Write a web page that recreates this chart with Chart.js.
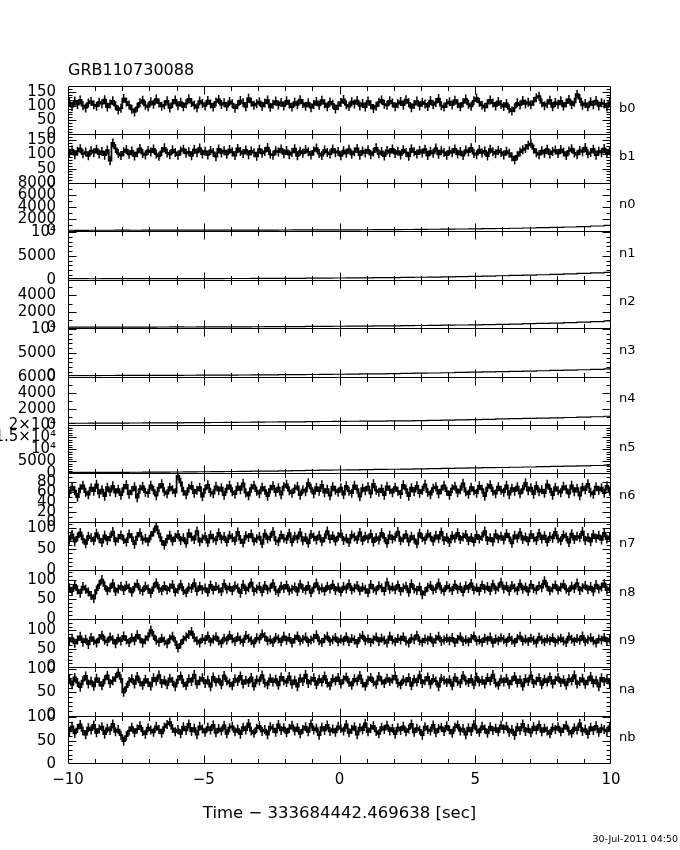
<!DOCTYPE html>
<html><head><meta charset="utf-8">
<script src="https://cdn.jsdelivr.net/npm/chart.js@4.4.1/dist/chart.umd.min.js"></script>
<style>html,body{margin:0;padding:0;background:#fff;}#wrap{width:680px;height:850px;}</style>
</head><body><div id="wrap"><canvas id="c" width="680" height="850"></canvas></div>
<script>
// ---- data ----
const panelNames = ['b0','b1','n0','n1','n2','n3','n4','n5','n6','n7','n8','n9','na','nb'];
const yMax = [170,170,8100,10200,5900,10200,6100,20200,98,115,125,132,104,104];
const yTickValues = [[0,50,100,150],[0,50,100,150],[0,2000,4000,6000,8000],[0,5000,10000],[0,2000,4000],[0,5000,10000],[0,2000,4000,6000],[0,5000,10000,15000,20000],[0,20,40,60,80],[0,50,100],[0,50,100],[0,50,100],[0,50,100],[0,50,100]];
const yTickText = [['0','50','100','150'],['0','50','100','150'],['0','2000','4000','6000','8000'],['0','5000','10⁴'],['0','2000','4000'],['0','5000','10⁴'],['0','2000','4000','6000'],['0','5000','10⁴','1.5×10⁴','2×10⁴'],['0','20','40','60','80'],['0','50','100'],['0','50','100'],['0','50','100'],['0','50','100'],['0','50','100']];
const yMinor = [10,10,1000,1000,1000,1000,1000,1000,10,10,10,10,10,10];
const yMajor = [50,50,2000,5000,2000,5000,2000,5000,20,50,50,50,50,50];
const xTickLabels = [-10,-5,0,5,10];
const titleText = 'GRB110730088';
const xTitle = 'Time − 333684442.469638 [sec]';
const dateText = '30-Jul-2011 04:50';

// noisy light curves: 0.1 s bins from -10 s
const binStart = -10, binWidth = 0.1;
const b0 = [112,98,117,105,121,101,93,110,116,104,99,113,108,122,96,107,118,101,86,92,
126,114,103,88,79,95,111,120,102,97,115,106,124,110,99,104,118,93,109,121,
101,113,97,108,125,112,103,94,117,109,100,119,107,96,114,123,105,111,98,116,
108,92,104,119,111,97,127,113,102,108,115,99,110,121,95,106,117,103,112,100,
118,107,96,113,104,122,109,99,111,94,105,116,102,120,108,97,114,106,89,101,
112,123,104,98,115,107,119,100,109,96,117,104,91,99,113,121,106,102,118,110,
97,108,116,103,122,111,94,105,117,100,113,107,98,119,104,112,126,101,96,109,
115,103,120,108,97,111,124,106,99,118,127,113,102,95,108,121,110,100,116,105,
98,109,90,82,94,111,103,119,107,113,104,116,129,134,111,101,108,120,97,112,
106,118,99,110,123,104,113,141,126,102,109,97,115,104,119,100,111,107,96,113];
const b1 = [104,116,99,111,120,102,108,95,113,106,118,101,110,97,115,78,140,121,103,96,
109,117,100,112,94,106,121,103,98,114,108,119,101,93,110,123,105,99,116,107,
97,112,118,104,109,95,117,106,122,101,111,98,114,107,92,119,105,113,100,117,
108,96,121,110,103,115,99,112,106,93,118,104,110,124,101,97,113,108,119,102,
114,99,107,120,95,111,104,117,109,98,112,122,103,96,115,107,101,119,106,110,
95,113,104,118,100,109,121,97,112,105,116,99,108,123,102,110,94,114,106,119,
103,111,98,116,107,93,120,109,101,114,105,118,96,111,104,122,100,113,107,97,
112,106,119,101,110,96,115,108,123,103,99,117,105,112,94,118,109,102,114,107,
98,111,104,92,80,95,108,116,121,132,138,119,106,99,113,104,118,101,110,115,
103,117,108,96,112,120,105,99,114,109,124,102,107,118,97,111,106,121,104,113];
const n6 = [58,71,63,50,67,74,60,55,69,62,76,57,65,52,70,61,73,59,66,54,
68,75,56,63,71,49,66,72,60,58,74,64,53,69,77,61,57,70,65,59,
93,80,62,55,68,73,58,64,70,51,66,75,60,57,72,63,69,54,67,74,
61,56,71,65,78,59,53,68,74,62,57,70,64,52,66,73,60,69,55,71,
76,63,58,67,72,54,65,61,79,68,57,70,62,75,59,66,53,71,64,60,
69,55,73,62,58,74,66,51,68,63,71,57,77,64,60,67,54,72,65,59,
70,62,56,75,66,52,69,61,73,58,64,76,60,55,68,71,57,65,74,62,
54,67,72,59,65,78,61,56,70,63,58,73,66,52,69,75,62,57,71,64,
60,74,55,68,62,71,57,66,79,63,69,56,73,61,65,58,76,67,54,70,
63,59,72,66,57,74,61,68,53,70,65,77,60,56,71,64,69,58,73,62];
const n7 = [72,85,68,79,90,74,63,81,77,70,88,75,66,83,71,79,92,69,76,84,
73,67,86,78,62,80,89,72,76,68,82,91,104,87,70,60,74,83,69,78,
85,71,77,64,88,79,73,93,68,75,81,66,84,76,71,89,74,80,67,83,
77,70,91,73,65,82,78,86,69,75,80,63,87,74,79,92,71,68,84,76,
73,88,67,81,75,90,70,78,64,85,79,72,83,68,77,93,74,82,69,80,
87,71,76,66,84,79,73,90,70,81,75,86,67,78,72,89,77,64,83,74,
79,92,70,76,85,68,81,74,63,88,77,72,86,80,69,83,75,91,71,78,
66,82,76,89,73,79,85,70,78,67,84,74,80,93,71,77,68,86,75,81,
72,87,78,64,83,76,90,73,79,69,85,77,71,88,74,82,67,80,76,91,
75,70,84,79,66,87,73,81,77,92,71,78,68,85,76,83,72,89,74,80];
const n8 = [80,71,87,74,66,83,76,69,60,52,74,88,101,85,72,79,91,70,77,84,
73,86,79,68,82,90,75,71,84,77,66,81,93,78,72,85,74,80,88,69,
76,89,73,67,81,78,92,71,84,75,79,68,87,74,83,77,70,90,76,82,
72,85,79,66,88,74,80,93,71,77,83,69,86,75,79,91,73,68,84,78,
87,72,76,82,70,89,78,74,85,67,80,92,75,79,71,84,77,88,73,81,
69,83,77,90,74,79,86,72,81,76,67,88,78,73,85,80,71,94,76,82,
75,87,71,79,84,68,90,77,73,82,62,70,81,86,74,78,92,76,71,85,
79,73,88,76,82,69,85,78,91,74,80,71,87,77,83,72,89,75,81,94,
77,84,71,86,79,73,90,76,82,70,88,78,74,85,80,98,83,72,79,87,
74,81,89,76,71,84,78,92,73,80,86,75,83,70,88,77,82,91,74,79];
const n9 = [70,79,65,74,84,68,76,62,81,72,66,78,87,73,69,82,75,64,79,71,
85,74,67,80,72,88,78,66,75,83,101,86,73,68,79,71,64,77,84,70,
52,63,75,82,89,97,80,72,66,78,74,85,69,76,83,71,65,79,73,87,
77,70,82,74,68,86,79,72,65,80,76,90,83,71,75,67,81,77,69,84,
73,80,66,77,85,71,76,82,68,74,79,88,72,67,78,84,70,75,81,69,
76,71,83,69,78,74,65,80,86,72,77,68,75,82,70,79,73,66,84,74,
69,78,74,83,71,66,79,75,87,72,68,77,73,81,67,76,84,70,74,79,
72,80,67,76,83,70,75,69,78,85,71,74,68,79,73,82,66,77,72,80,
75,68,81,73,67,78,84,71,76,70,79,73,66,82,75,69,77,72,80,68,
74,79,71,67,83,76,70,78,73,85,69,75,80,72,66,77,74,81,70,76];
const na = [78,66,82,71,61,75,85,68,74,63,80,72,64,77,86,69,75,82,92,79,
50,61,73,79,68,84,72,65,78,71,63,81,74,87,69,76,66,80,73,62,
77,85,70,64,79,73,88,67,75,81,69,76,62,83,72,78,66,86,74,70,
64,79,73,85,68,76,71,82,63,77,74,87,70,66,80,72,78,65,83,75,
71,84,67,76,62,80,73,88,69,75,81,66,78,72,85,70,64,79,74,82,
68,77,83,71,65,79,74,86,70,63,76,82,72,67,84,75,69,80,73,78,
85,70,66,77,73,81,64,78,72,87,69,75,83,67,79,74,62,80,76,71,
77,64,82,73,69,86,75,71,79,66,83,72,76,68,81,74,88,70,65,78,
72,80,67,75,84,70,77,63,79,73,86,69,74,81,66,78,72,83,68,76,
82,71,77,65,79,74,87,68,73,80,67,75,84,70,76,62,81,73,78,69];
const nb = [70,81,66,76,85,71,63,78,73,84,67,75,80,64,77,72,86,69,74,62,
49,60,71,79,67,75,82,70,64,78,73,68,81,74,66,79,85,90,76,69,
74,65,80,72,86,70,77,63,81,75,68,79,73,84,67,76,71,83,65,78,
81,69,75,64,79,73,87,71,66,77,82,70,74,63,80,76,68,85,72,78,
67,76,83,71,78,65,74,80,69,86,73,77,62,79,72,84,70,75,68,81,
76,71,85,67,74,80,63,78,73,87,69,76,82,70,65,79,74,83,71,77,
64,78,72,81,69,75,86,68,77,73,62,80,74,71,84,67,76,79,70,82,
73,66,79,84,71,76,63,78,70,85,74,68,81,75,66,80,72,77,69,83,
75,81,68,74,62,79,72,86,70,76,67,80,73,84,69,77,71,65,78,74,
80,69,76,83,71,66,78,73,87,70,75,64,79,72,82,68,77,74,70,81];

// slowly rising detectors: samples every 0.5 s from -10 s
const rampStart = -10, rampStep = 0.5;
const n0 = [170,165,175,170,180,175,185,180,190,185,195,200,195,205,210,205,215,220,230,225,240,250,255,270,280,300,320,340,360,385,410,440,470,510,550,600,650,720,790,880,990];
const n1 = [210,215,205,220,215,225,230,225,235,240,245,250,260,255,270,280,290,300,320,340,360,380,400,430,450,480,520,560,600,650,700,760,830,900,970,1050,1130,1220,1320,1420,1540];
const n2 = [120,125,120,130,125,135,130,140,145,140,150,155,160,165,170,180,185,195,205,215,230,240,255,270,285,300,320,340,360,385,410,440,470,500,540,580,620,670,730,800,880];
const n3 = [210,220,215,230,240,235,250,260,270,280,290,305,320,335,350,370,390,410,435,460,490,520,550,585,620,660,705,755,810,865,920,980,1040,1100,1165,1230,1300,1370,1440,1520,1610];
const n4 = [215,220,225,235,240,250,260,270,280,290,300,315,330,345,360,375,390,405,420,440,455,470,485,500,515,530,550,575,605,640,680,720,760,800,835,870,905,945,990,1040,1100];
const n5 = [420,430,440,460,480,500,530,560,600,640,690,740,800,860,930,1000,1080,1160,1250,1340,1420,1500,1580,1660,1740,1820,1900,1990,2080,2180,2280,2380,2480,2580,2690,2800,2920,3040,3170,3310,3460];

const series = [b0,b1,n0,n1,n2,n3,n4,n5,n6,n7,n8,n9,na,nb];
const isRamp = [false,false,true,true,true,true,true,true,false,false,false,false,false,false];

// ---- build chart ----
const datasets = series.map((vals,i)=>{
  const ramp = isRamp[i];
  const pts = vals.map((v,k)=>({x: ramp ? rampStart + rampStep*k : binStart + binWidth*(k+0.5), y: v}));
  return {
    label: panelNames[i], data: pts, yAxisID: 'y'+i,
    stepped: 'middle', borderColor:'#000', borderWidth: ramp ? 1.2 : 1.8,
    pointStyle: 'line', pointRotation: 90, pointRadius: ramp ? 0 : 4.5,
    pointBorderWidth: 1.5, pointBorderColor:'#000', pointBackgroundColor:'#000',
    pointHoverRadius: 0, fill:false
  };
});

const scales = {
  x: {
    type:'linear', position:'bottom', min:-10, max:10,
    grid:{display:false}, border:{display:false},
    ticks:{stepSize:5, color:'#000', padding:-1, maxRotation:0, autoSkip:false,
      font:{family:'DejaVu Sans', size:15},
      callback: v => xTickLabels.includes(v) ? (v<0 ? '−'+Math.abs(v) : String(v)) : ''},
    title:{display:true, text:xTitle, color:'#000', font:{family:'DejaVu Sans', size:16.5}, padding:{top:0,bottom:26}},
    afterFit: s => { s.height = 86; }
  }
};
panelNames.forEach((n,i)=>{
  scales['y'+i] = {
    type:'linear', position:'left', stack:'panels', stackWeight:1, weight: 20 - i,
    min:0, max:yMax[i],
    grid:{display:false}, border:{display:false}, ticks:{display:false},
    afterFit: s => { s.width = 0; }
  };
});

const framePlugin = {
  id:'frame',
  afterDatasetsDraw(chart){
    const ctx = chart.ctx, a = chart.chartArea, xs = chart.scales.x;
    const L = Math.round(a.left)+0.5, R = Math.round(a.right)-0.5;
    ctx.save();
    ctx.strokeStyle = '#000'; ctx.fillStyle = '#000'; ctx.lineWidth = 1;
    ctx.beginPath();
    const firstTop = Math.round(chart.scales.y0.top)+0.5;
    const lastBottom = Math.round(chart.scales['y'+(panelNames.length-1)].bottom)-0.5;
    ctx.moveTo(L, firstTop); ctx.lineTo(L, lastBottom);
    ctx.moveTo(R, firstTop); ctx.lineTo(R, lastBottom);
    ctx.moveTo(L, firstTop); ctx.lineTo(R, firstTop);
    panelNames.forEach((name,i)=>{
      const s = chart.scales['y'+i];
      const T = Math.round(s.top)+0.5;
      const B = (i === panelNames.length-1) ? lastBottom : Math.round(s.bottom)+0.5;
      ctx.moveTo(L, B); ctx.lineTo(R, B);
      for (let t = -9; t <= 9; t++) {
        const px = Math.round(xs.getPixelForValue(t))+0.5;
        const len = (t % 5 === 0) ? 8 : 4.5;
        ctx.moveTo(px, T); ctx.lineTo(px, T+len);
        ctx.moveTo(px, B); ctx.lineTo(px, B-len);
      }
      for (let k = 1; k*yMinor[i] < yMax[i]; k++) {
        const v = k*yMinor[i];
        const py = Math.round(s.getPixelForValue(v))+0.5;
        if (py - T < 1) continue;
        const len = (v % yMajor[i] === 0) ? 8 : 4;
        ctx.moveTo(L, py); ctx.lineTo(L+len, py);
        ctx.moveTo(R, py); ctx.lineTo(R-len, py);
      }
    });
    ctx.stroke();
    ctx.font = '15px "DejaVu Sans"';
    ctx.textAlign = 'right'; ctx.textBaseline = 'middle';
    panelNames.forEach((name,i)=>{
      const s = chart.scales['y'+i];
      yTickValues[i].forEach((v,k)=>{
        ctx.fillText(yTickText[i][k], 56, s.getPixelForValue(v));
      });
    });
    ctx.font = '13px "DejaVu Sans"';
    ctx.textAlign = 'left';
    panelNames.forEach((name,i)=>{
      const s = chart.scales['y'+i];
      ctx.fillText(name, 619, (s.top+s.bottom)/2 - 2);
    });
    ctx.font = '16px "DejaVu Sans"'; ctx.textBaseline = 'alphabetic';
    ctx.fillText(titleText, 68, 75);
    ctx.font = '9.5px "DejaVu Sans"'; ctx.textAlign = 'right';
    ctx.fillText(dateText, 678, 842);
    ctx.restore();
  }
};

new Chart(document.getElementById('c'), {
  type:'line',
  data:{datasets},
  options:{
    responsive:false, animation:false, devicePixelRatio:1,
    layout:{padding:{left:68, right:69, top:86, bottom:0}},
    plugins:{legend:{display:false}, tooltip:{enabled:false}, title:{display:false}},
    events:[],
    scales
  },
  plugins:[framePlugin]
});
</script></body></html>
